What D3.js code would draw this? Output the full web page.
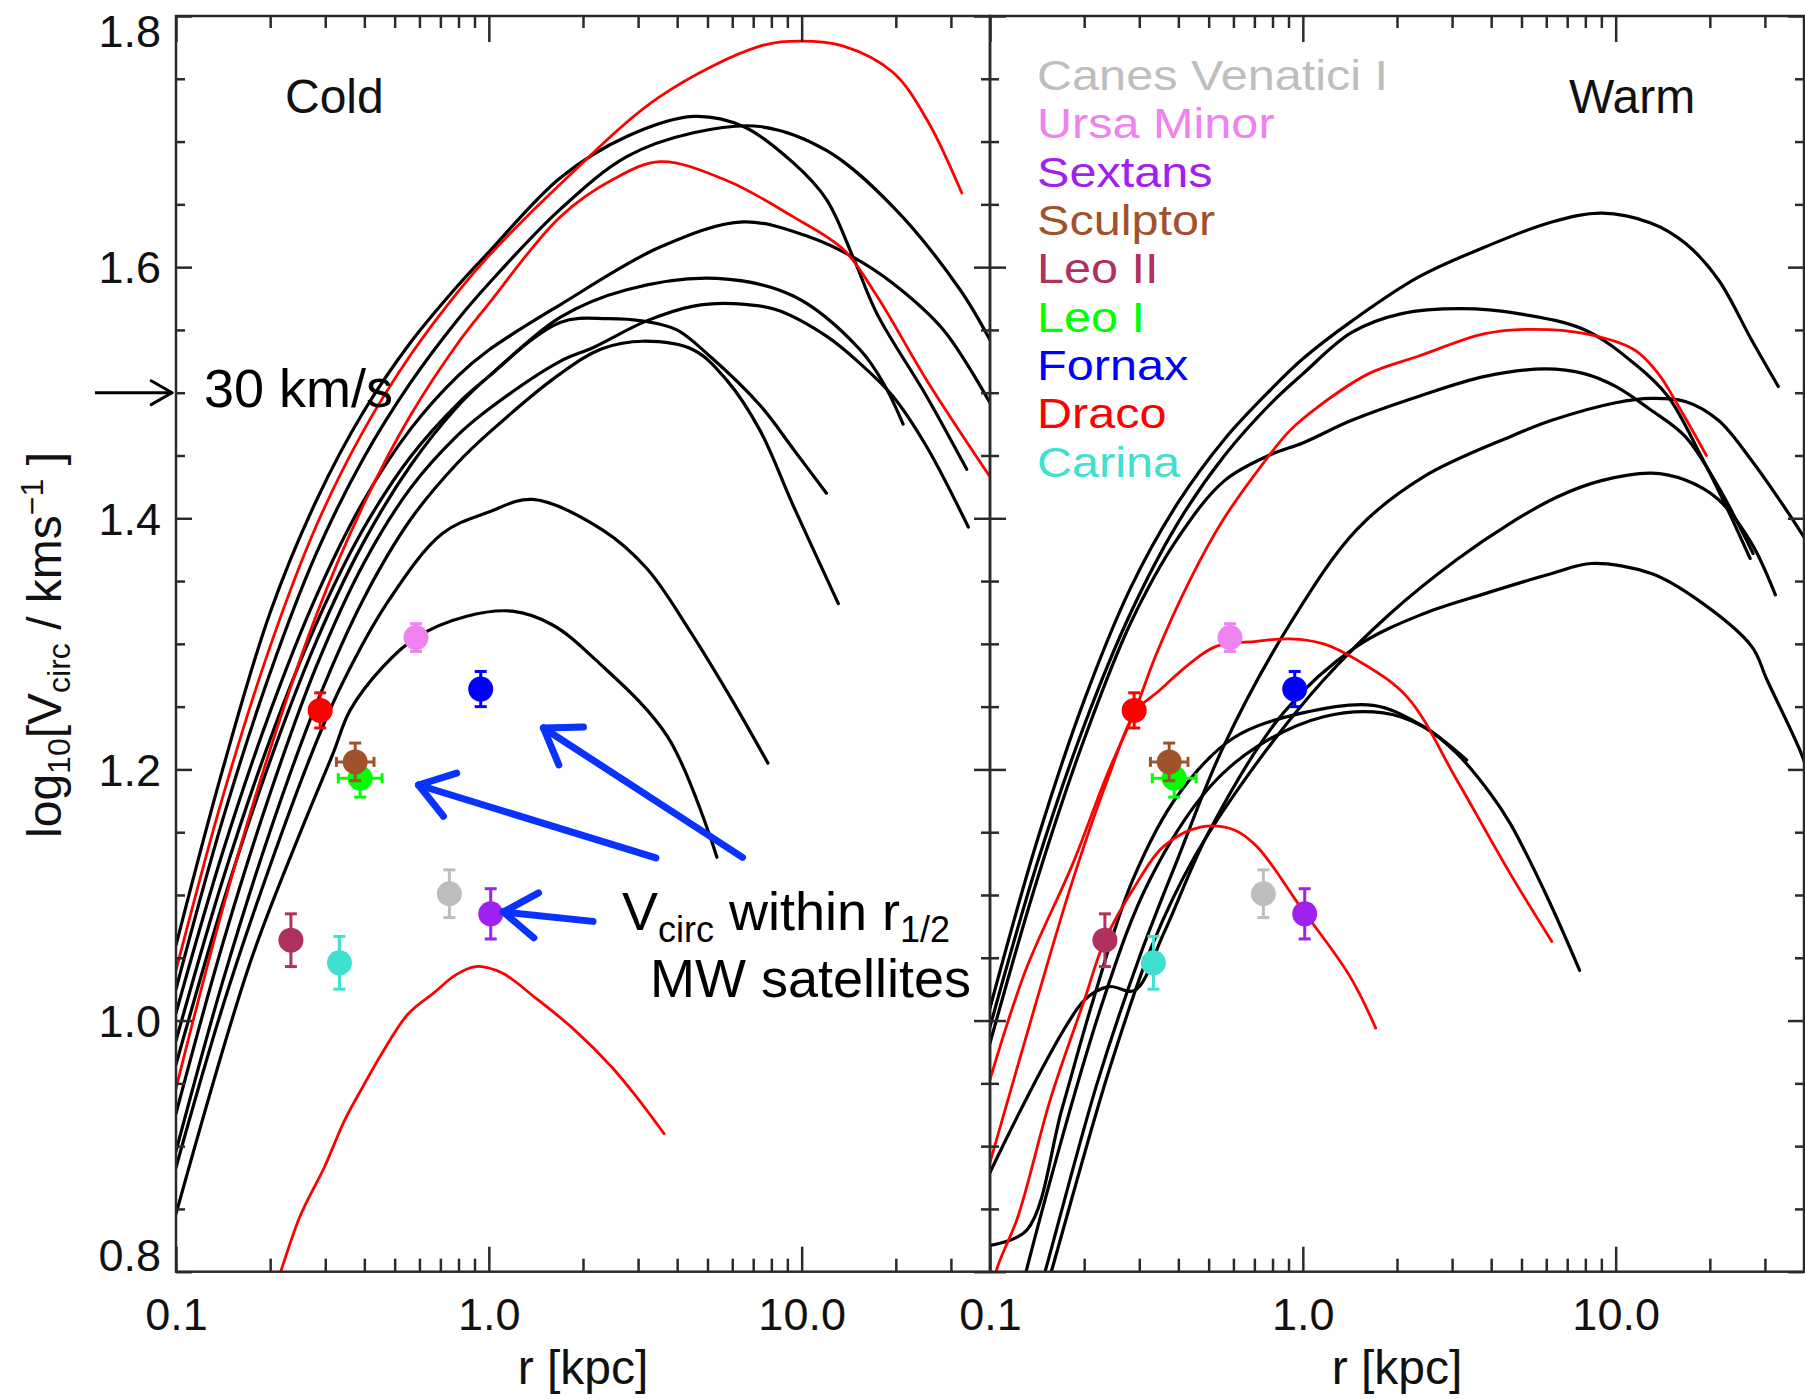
<!DOCTYPE html>
<html>
<head>
<meta charset="utf-8">
<title>Vcirc profiles: Cold vs Warm</title>
<script src="https://cdn.jsdelivr.net/npm/d3@7"></script>
<style>
  body { margin: 0; background: #fff; }
  svg text { font-family: "Liberation Sans", Arial, Helvetica, sans-serif; }
</style>
</head>
<body>
<svg id="chart" width="1805" height="1399"></svg>
<script>
// rotation curves: [r (kpc), log10 Vcirc]
const coldK1 = [[0.1,1.06],[0.141,1.2],[0.2,1.325],[0.282,1.415],[0.398,1.485],[0.562,1.54],[0.794,1.585],[1.0,1.612],[1.69,1.671],[2.76,1.704],[4.51,1.72],[6.51,1.712],[9.41,1.683],[12.0,1.654],[14.6,1.608],[17.4,1.563],[25.1,1.497],[33.7,1.439]];
const coldK2 = [[0.1,1.025],[0.141,1.16],[0.2,1.277],[0.282,1.373],[0.398,1.448],[0.562,1.508],[0.794,1.558],[1.0,1.587],[1.69,1.646],[2.76,1.688],[4.51,1.707],[7.36,1.712],[12.0,1.693],[19.6,1.648],[32.1,1.582],[40,1.542]];
const coldK3 = [[0.1,1.006],[0.141,1.134],[0.2,1.246],[0.282,1.339],[0.398,1.414],[0.562,1.471],[0.794,1.513],[1.0,1.534],[1.69,1.57],[3.53,1.616],[6.51,1.636],[10.6,1.624],[14.6,1.608],[19.6,1.587],[28.4,1.55],[40,1.492]];
const coldK4 = [[0.1,0.984],[0.141,1.112],[0.2,1.224],[0.282,1.317],[0.398,1.392],[0.562,1.449],[0.794,1.491],[1.0,1.513],[1.69,1.56],[2.76,1.582],[5.35,1.591],[9.41,1.577],[15.4,1.534],[18.5,1.505],[21.1,1.475]];
const coldK5 = [[0.1,0.926],[0.141,1.061],[0.2,1.181],[0.282,1.283],[0.398,1.364],[0.562,1.424],[0.794,1.466],[1.0,1.487],[1.69,1.525],[2.16,1.536],[3.18,1.557],[4.51,1.569],[6.05,1.571],[8.3,1.566],[12.0,1.545],[15.4,1.523],[19.6,1.497],[25.1,1.457],[34.1,1.393]];
const coldK6 = [[0.1,0.965],[0.141,1.093],[0.2,1.207],[0.282,1.303],[0.398,1.381],[0.562,1.442],[0.794,1.489],[1.0,1.513],[1.69,1.556],[2.4,1.559],[3.12,1.557],[3.99,1.55],[5.09,1.529],[7.36,1.49],[9.41,1.455],[12.0,1.42]];
const coldK7 = [[0.1,0.896],[0.141,1.031],[0.2,1.151],[0.282,1.253],[0.398,1.336],[0.562,1.399],[0.794,1.444],[1.0,1.468],[1.69,1.515],[2.3,1.535],[3.12,1.541],[4.51,1.534],[5.76,1.51],[7.36,1.47],[9.4,1.41],[13.1,1.332]];
const coldK8 = [[0.1,0.883],[0.149,1.03],[0.266,1.207],[0.341,1.269],[0.48,1.335],[0.712,1.388],[1.0,1.405],[1.38,1.415],[2.3,1.391],[3.2,1.36],[4.4,1.31],[6.0,1.255],[7.8,1.205]];
const coldK9 = [[0.1,0.846],[0.172,1.045],[0.249,1.149],[0.318,1.213],[0.36,1.247],[0.46,1.282],[0.585,1.305],[0.85,1.322],[1.19,1.326],[1.6,1.315],[2.2,1.287],[3.73,1.226],[5.36,1.13]];
const coldRedA = [[0.1,1.04],[0.141,1.178],[0.2,1.298],[0.282,1.395],[0.398,1.47],[0.562,1.53],[0.794,1.58],[1.0,1.609],[1.69,1.666],[3.53,1.736],[7.36,1.776],[9.9,1.78],[13.6,1.776],[19.6,1.755],[25.2,1.717],[32.5,1.659]];
const coldRedB = [[0.1,0.946],[0.141,1.089],[0.2,1.216],[0.282,1.324],[0.398,1.411],[0.562,1.482],[0.794,1.539],[1.0,1.571],[1.69,1.64],[2.5,1.67],[3.53,1.684],[5.76,1.669],[9.41,1.64],[13.6,1.614],[17.4,1.577],[25.1,1.51],[40,1.433]];
const coldRedC = [[0.19,0.76],[0.216,0.8],[0.249,0.844],[0.299,0.884],[0.345,0.92],[0.397,0.948],[0.458,0.975],[0.551,1.005],[0.667,1.022],[0.78,1.036],[0.907,1.043],[1.1,1.038],[1.41,1.018],[1.87,0.993],[2.47,0.963],[2.99,0.938],[3.63,0.91]];

const warmK1 = [[0.1,1.01],[0.141,1.142],[0.2,1.255],[0.282,1.345],[0.398,1.412],[0.562,1.463],[0.794,1.503],[1.0,1.527],[1.433,1.557],[2.34,1.592],[3.82,1.616],[6.25,1.636],[9.03,1.643],[13.0,1.635],[16.7,1.619],[21.3,1.59],[27.2,1.542],[33.1,1.505]];
const warmK2 = [[0.1,0.995],[0.141,1.124],[0.2,1.235],[0.282,1.325],[0.398,1.396],[0.562,1.45],[0.794,1.492],[1.0,1.515],[1.433,1.548],[2.07,1.563],[3.22,1.567],[4.89,1.563],[7.98,1.55],[11.5,1.523],[14.7,1.497],[18.8,1.449],[22.5,1.41],[26.9,1.368]];
const warmK3 = [[0.1,0.982],[0.141,1.111],[0.2,1.224],[0.282,1.317],[0.398,1.384],[0.562,1.43],[0.794,1.451],[1.0,1.46],[1.433,1.478],[2.34,1.497],[3.82,1.513],[5.95,1.519],[7.98,1.515],[10.0,1.505],[13.0,1.486],[16.7,1.465],[21.3,1.425],[27.5,1.372]];
const warmK4 = [[0.135,0.76],[0.15,0.8],[0.22,0.95],[0.3,1.05],[0.4,1.13],[0.557,1.218],[0.91,1.316],[1.487,1.391],[2.43,1.433],[4.6,1.465],[6.25,1.478],[10.0,1.492],[13.0,1.4955],[16.7,1.493],[21.3,1.478],[27.2,1.446],[34.6,1.409],[40,1.385]];
const warmK5 = [[0.141,0.76],[0.157,0.8],[0.24,0.96],[0.33,1.06],[0.45,1.13],[0.712,1.205],[1.163,1.271],[1.9,1.324],[3.1,1.367],[4.6,1.396],[6.5,1.417],[9.0,1.43],[13.0,1.436],[16.7,1.4305],[21.3,1.415],[27.2,1.38],[32.4,1.339]];
const warmK6 = [[0.1,0.879],[0.2,1.016],[0.24,1.027],[0.29,1.024],[0.36,1.07],[0.5,1.15],[0.866,1.245],[1.487,1.298],[2.43,1.324],[3.82,1.34],[6.25,1.356],[8.38,1.364],[13.0,1.356],[18.3,1.335],[27.2,1.298],[30.5,1.271],[39.3,1.212],[42,1.19]];
const warmK7 = [[0.1,0.821],[0.131,0.833],[0.17,0.93],[0.2135,1.016],[0.286,1.112],[0.4,1.18],[0.6,1.225],[1.0,1.245],[1.68,1.251],[2.4,1.235],[3.34,1.2075]];
const warmK8 = [[0.12,0.76],[0.1304,0.8],[0.23,1.016],[0.324,1.112],[0.5,1.185],[0.712,1.218],[1.166,1.242],[1.81,1.245],[2.43,1.234],[3.1,1.213],[3.97,1.181],[4.6,1.157],[6.0,1.1],[7.67,1.04]];
const warmRedD = [[0.1,0.953],[0.13,1.04],[0.184,1.125],[0.236,1.195],[0.29,1.246],[0.341,1.2925],[0.436,1.351],[0.557,1.399],[0.748,1.444],[0.91,1.47],[1.121,1.489],[1.62,1.515],[2.34,1.529],[3.82,1.547],[5.53,1.5505],[7.98,1.547],[11.5,1.534],[13.7,1.515],[15.9,1.489],[19.5,1.45]];
const warmRedE = [[0.1,0.887],[0.141,1.016],[0.184,1.112],[0.236,1.19],[0.294,1.247],[0.341,1.261],[0.436,1.2845],[0.528,1.298],[0.711,1.302],[0.91,1.304],[1.166,1.3],[1.493,1.287],[2.15,1.258],[3.1,1.192],[4.6,1.117],[6.25,1.063]];
const warmRedF = [[0.098,0.76],[0.1045,0.8],[0.1229,0.844],[0.1567,0.939],[0.2,1.016],[0.233,1.064],[0.294,1.109],[0.358,1.1385],[0.471,1.154],[0.601,1.152],[0.714,1.1385],[0.98,1.091],[1.416,1.035],[1.71,0.994]];

const coldBlack = [coldK1, coldK2, coldK3, coldK4, coldK5, coldK6, coldK7, coldK8, coldK9];
const coldRed = [coldRedA, coldRedB, coldRedC];
const warmBlack = [warmK1, warmK2, warmK3, warmK4, warmK5, warmK6, warmK7, warmK8];
const warmRed = [warmRedD, warmRedE, warmRedF];

// MW satellites, Vcirc within r_1/2
const satNames = ["Canes Venatici I", "Ursa Minor", "Sextans", "Sculptor", "Leo II", "Leo I", "Fornax", "Draco", "Carina"];
const satColors = ["#bebebe", "#ee82ee", "#a020f0", "#a0522d", "#b03060", "#00ff00", "#0000ff", "#ff0000", "#40e0d0"];
const satR = [0.748, 0.585, 1.014, 0.374, 0.233, 0.388, 0.942, 0.289, 0.333];
const satV = [1.101, 1.305, 1.085, 1.206, 1.064, 1.193, 1.264, 1.247, 1.046];
const satErr = [0.019, 0.011, 0.020, 0.015, 0.021, 0.015, 0.014, 0.014, 0.021];
const satRErr = [0, 0, 0, 0.06, 0, 0.07, 0, 0, 0];   // dex

// axes
const xMajor = [0.1, 1, 10];
const xMajorLabels = ["0.1", "1.0", "10.0"];
const xMinor = [0.2, 0.3, 0.4, 0.5, 0.6, 0.7, 0.8, 0.9, 2, 3, 4, 5, 6, 7, 8, 9, 20, 30];
const yMajor = [0.8, 1.0, 1.2, 1.4, 1.6, 1.8];
const yMajorLabels = ["0.8", "1.0", "1.2", "1.4", "1.6", "1.8"];
const yMinor = [0.85, 0.9, 0.95, 1.05, 1.1, 1.15, 1.25, 1.3, 1.35, 1.45, 1.5, 1.55, 1.65, 1.7, 1.75];

// annotation arrows (cold panel, data coords): tail -> head
const arrowTails = [[6.47, 1.130], [3.42, 1.1295], [2.153, 1.079]];
const arrowHeads = [[1.495, 1.233], [0.596, 1.1876], [1.113, 1.0865]];

const svg = d3.select("#chart");
const plotTop = 16, plotBottom = 1271.7;
const ink = "#2a2a2a";
const y = d3.scaleLinear().domain([0.8, 1.8]).range([plotBottom, plotTop]);

const panels = [
  { id: "cold", left: 176, right: 990, title: "Cold", titleX: 285, black: coldBlack, red: coldRed },
  { id: "warm", left: 990, right: 1804, title: "Warm", titleX: 1569, black: warmBlack, red: warmRed }
];

const sats = satNames.map((name, i) => ({ name, color: satColors[i], r: satR[i], v: satV[i], e: satErr[i], re: satRErr[i] }));

function styleAxis(sel, size) {
  sel.select(".domain").remove();
  sel.selectAll("line").attr("stroke", ink).attr("stroke-width", 2.5);
  sel.selectAll("text").filter(function () { return !this.textContent; }).remove();
  sel.selectAll("text").attr("fill", "#111").attr("font-size", size)
    .attr("font-family", "'Liberation Sans', Arial, Helvetica, sans-serif");
}

function chevron(g, tip, from, len, spread, color, width) {
  const a = Math.atan2(tip[1] - from[1], tip[0] - from[0]);
  [-spread, spread].forEach(s => {
    g.append("line")
      .attr("x1", tip[0]).attr("y1", tip[1])
      .attr("x2", tip[0] - len * Math.cos(a + s)).attr("y2", tip[1] - len * Math.sin(a + s))
      .attr("stroke", color).attr("stroke-width", width).attr("stroke-linecap", "round");
  });
}

panels.forEach((p, pi) => {
  const x = d3.scaleLog().domain([0.1, 40]).range([p.left, p.right]);
  const g = svg.append("g").attr("class", "panel-" + p.id);

  svg.append("clipPath").attr("id", "clip-" + p.id).append("rect")
    .attr("x", p.left).attr("y", plotTop)
    .attr("width", p.right - p.left).attr("height", plotBottom - plotTop);

  const line = d3.line().x(d => x(d[0])).y(d => y(d[1])).curve(d3.curveCatmullRom.alpha(0.5));
  const curves = g.append("g").attr("clip-path", `url(#clip-${p.id})`).attr("fill", "none")
    .attr("stroke-linejoin", "round").attr("stroke-linecap", "round");
  curves.selectAll("path.black").data(p.black).join("path").attr("class", "black")
    .attr("d", line).attr("stroke", "#000").attr("stroke-width", 3.2);
  curves.selectAll("path.red").data(p.red).join("path").attr("class", "red")
    .attr("d", line).attr("stroke", "#ff0000").attr("stroke-width", 2.8);

  // ticks, all pointing inward
  g.append("g").attr("transform", `translate(0,${plotBottom})`)
    .call(d3.axisBottom(x).tickValues(xMajor).tickFormat((d, i) => xMajorLabels[i]).tickSize(-25).tickPadding(26))
    .call(s => styleAxis(s, 45));
  g.append("g").attr("transform", `translate(0,${plotBottom})`)
    .call(d3.axisBottom(x).tickValues(xMinor).tickFormat("").tickSize(-13))
    .call(s => styleAxis(s, 45));
  g.append("g").attr("transform", `translate(0,${plotTop})`)
    .call(d3.axisTop(x).tickValues(xMajor).tickFormat("").tickSize(-26))
    .call(s => styleAxis(s, 45));
  g.append("g").attr("transform", `translate(0,${plotTop})`)
    .call(d3.axisTop(x).tickValues(xMinor).tickFormat("").tickSize(-12))
    .call(s => styleAxis(s, 45));

  const yl = g.append("g").attr("transform", `translate(${p.left},0)`)
    .call(d3.axisLeft(y).tickValues(yMajor).tickSize(-16).tickPadding(15)
      .tickFormat((d, i) => pi === 0 ? yMajorLabels[i] : ""))
    .call(s => styleAxis(s, 45));
  yl.selectAll("text").attr("dy", d => d === 1.8 ? "30px" : d === 0.8 ? "-1px" : "0.35em");
  g.append("g").attr("transform", `translate(${p.left},0)`)
    .call(d3.axisLeft(y).tickValues(yMinor).tickFormat("").tickSize(-9))
    .call(s => styleAxis(s, 45));
  g.append("g").attr("transform", `translate(${p.right},0)`)
    .call(d3.axisRight(y).tickValues(yMajor).tickFormat("").tickSize(-16))
    .call(s => styleAxis(s, 45));
  g.append("g").attr("transform", `translate(${p.right},0)`)
    .call(d3.axisRight(y).tickValues(yMinor).tickFormat("").tickSize(-9))
    .call(s => styleAxis(s, 45));

  g.append("rect").attr("x", p.left).attr("y", plotTop)
    .attr("width", p.right - p.left).attr("height", plotBottom - plotTop)
    .attr("fill", "none").attr("stroke", ink).attr("stroke-width", 2.5);

  g.append("text").attr("x", (p.left + p.right) / 2).attr("y", 1384)
    .attr("text-anchor", "middle").attr("font-size", 48).attr("fill", "#111").text("r [kpc]");

  g.append("text").attr("x", p.titleX).attr("y", 113)
    .attr("font-size", 48).attr("fill", "#111").text(p.title);

  // satellites (drawn back to front so Sculptor sits over Leo I)
  const sg = g.append("g");
  sats.slice().reverse().forEach(s => {
    const cx = x(s.r), cy = y(s.v);
    const one = sg.append("g").attr("stroke", s.color).attr("fill", s.color).attr("stroke-width", 3);
    one.append("line").attr("x1", cx).attr("x2", cx).attr("y1", y(s.v - s.e)).attr("y2", y(s.v + s.e));
    [s.v - s.e, s.v + s.e].forEach(v => one.append("line")
      .attr("x1", cx - 6).attr("x2", cx + 6).attr("y1", y(v)).attr("y2", y(v)));
    if (s.re > 0) {
      const xa = x(s.r / Math.pow(10, s.re)), xb = x(s.r * Math.pow(10, s.re));
      one.append("line").attr("x1", xa).attr("x2", xb).attr("y1", cy).attr("y2", cy);
      [xa, xb].forEach(xx => one.append("line").attr("x1", xx).attr("x2", xx).attr("y1", cy - 5).attr("y2", cy + 5));
    }
    one.append("circle").attr("cx", cx).attr("cy", cy).attr("r", 12.5).attr("stroke", "none");
  });

  if (pi === 1) {
    // tight line spacing as in the original: smaller font, stretched sideways
    const leg = g.append("g").attr("font-size", 43);
    satNames.forEach((n, i) => {
      leg.append("text")
        .attr("transform", `translate(${p.left + 47},${90 + 48.33 * i}) scale(1.13,1)`)
        .attr("fill", satColors[i]).text(n);
    });
  }

  if (pi === 0) {
    const blue = "#0a32ff";
    const ann = g.append("g");
    arrowTails.forEach((t, i) => {
      const from = [x(t[0]), y(t[1])];
      const tip = [x(arrowHeads[i][0]), y(arrowHeads[i][1])];
      ann.append("line").attr("x1", from[0]).attr("y1", from[1]).attr("x2", tip[0]).attr("y2", tip[1])
        .attr("stroke", blue).attr("stroke-width", 7).attr("stroke-linecap", "round");
      chevron(ann, tip, from, 40, 0.6, blue, 7);
    });

    const t1 = ann.append("text").attr("x", 622).attr("y", 930).attr("font-size", 54).attr("fill", "#000");
    t1.append("tspan").text("V");
    t1.append("tspan").attr("font-size", 36).attr("dy", 12).text("circ");
    t1.append("tspan").attr("dy", -12).text(" within r");
    t1.append("tspan").attr("font-size", 36).attr("dy", 12).text("1/2");
    ann.append("text").attr("x", 650).attr("y", 997).attr("font-size", 54).attr("fill", "#000").text("MW satellites");

    // 30 km/s marker just outside the axis
    const ay = y(1.5);
    ann.append("line").attr("x1", p.left - 81).attr("x2", p.left - 4).attr("y1", ay).attr("y2", ay)
      .attr("stroke", "#000").attr("stroke-width", 3);
    chevron(ann, [p.left - 4, ay], [p.left - 81, ay], 24, 0.52, "#000", 3);
    ann.append("text").attr("x", 204).attr("y", 407).attr("font-size", 54).attr("fill", "#000").text("30 km/s");
  }
});

// y-axis title
const yt = svg.append("text").attr("transform", "translate(61,645) rotate(-90)")
  .attr("text-anchor", "middle").attr("font-size", 48).attr("fill", "#111");
yt.append("tspan").text("log");
yt.append("tspan").attr("font-size", 32).attr("dy", 9).text("10");
yt.append("tspan").attr("dy", -9).text("[V");
yt.append("tspan").attr("font-size", 32).attr("dy", 9).text("circ");
yt.append("tspan").attr("dy", -9).text(" / kms");
yt.append("tspan").attr("font-size", 32).attr("dy", -18).text("\u22121");
yt.append("tspan").attr("dy", 18).text(" ]");
</script>
</body>
</html>
